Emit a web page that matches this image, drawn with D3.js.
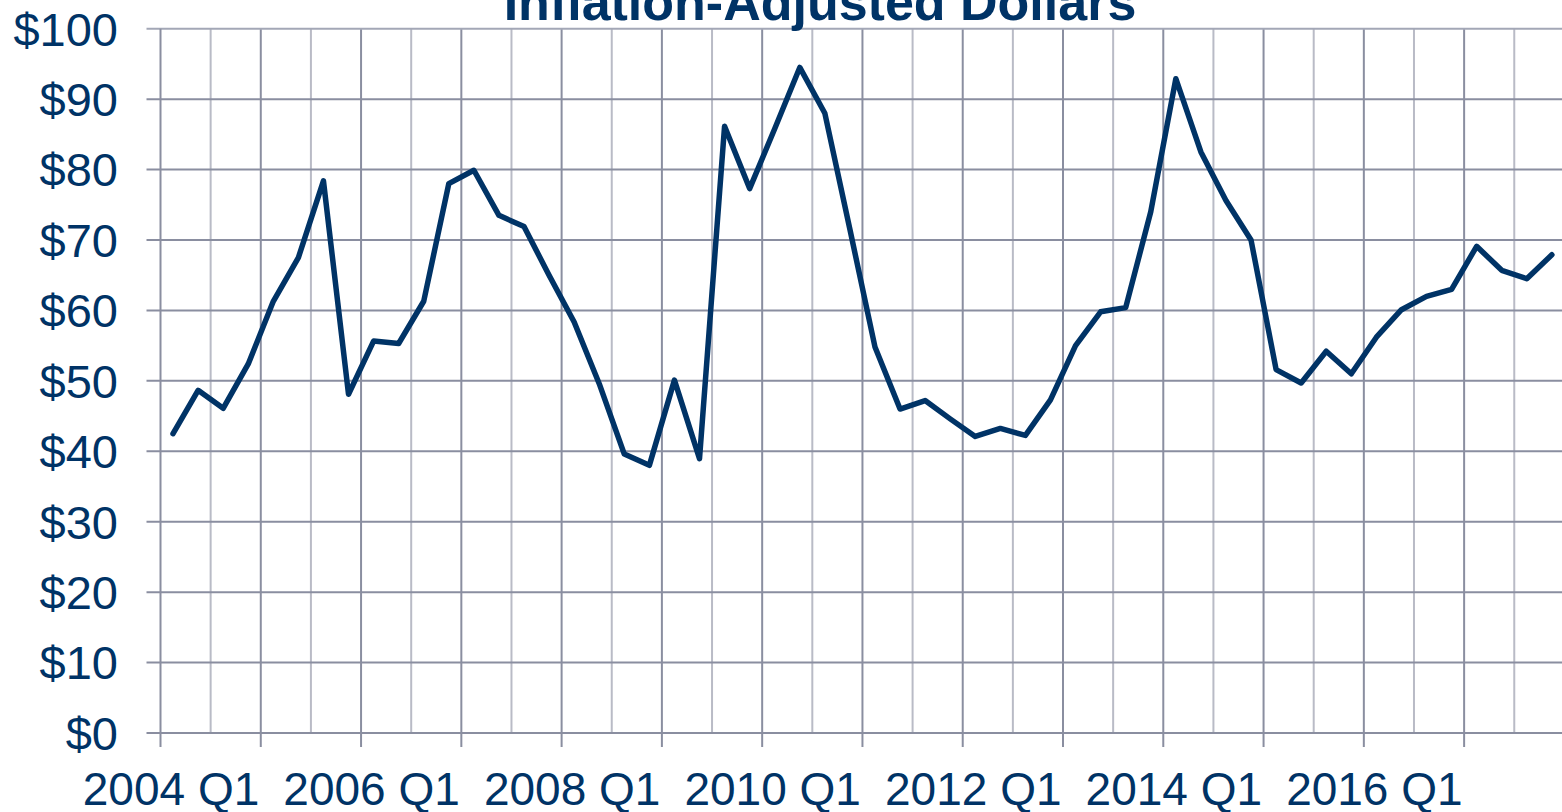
<!DOCTYPE html>
<html>
<head>
<meta charset="utf-8">
<script src="https://cdn.jsdelivr.net/npm/d3@7"></script>
<style>
	html, body { margin: 0; padding: 0; background: #ffffff; overflow: hidden; }
	#chart { width: 1562px; height: 812px; }
</style>
</head>
<body>
<div id="chart"></div>
<script>
const title = 'Inflation-Adjusted Dollars';
const years = [2004, 2005, 2006, 2007, 2008, 2009, 2010, 2011, 2012, 2013, 2014, 2015, 2016, 2017];
const quarterNames = ['Q1', 'Q2', 'Q3', 'Q4'];
const xTickLabels = ['2004 Q1', '2006 Q1', '2008 Q1', '2010 Q1', '2012 Q1', '2014 Q1', '2016 Q1'];
const yTicks = [0, 10, 20, 30, 40, 50, 60, 70, 80, 90, 100];
// quarterly price, 2004 Q1 .. 2017 Q4
const prices = [
	42.5, 48.65, 46.1, 52.4, 61.3, 67.5, 78.4, 48.1,
	55.65, 55.3, 61.3, 78.0, 79.9, 73.5, 71.9, 65.0,
	58.35, 49.6, 39.6, 38.0, 50.1, 38.95, 86.15, 77.3,
	85.8, 94.5, 88.0, 71.5, 54.8, 46.0, 47.2, 44.6,
	42.1, 43.25, 42.25, 47.3, 55.0, 59.8, 60.4, 74.0,
	92.9, 82.5, 75.6, 70.0, 51.6, 49.7, 54.2, 51.0,
	56.2, 60.1, 62.0, 63.0, 69.1, 65.7, 64.5, 67.9
];

const categories = years.flatMap(y => quarterNames.map(q => `${y} ${q}`));

const W = 1562, H = 812;
const plot = { left: 160.5, right: 1564.4, top: 28.7, bottom: 733 };
const navy = '#003366';
const gridDark = '#8a8ea0';
const gridLight = '#b9bbc6';
const font = '"Liberation Sans", Arial, sans-serif';

const svg = d3.select('#chart')
	.append('svg')
	.attr('width', W)
	.attr('height', H);

const x = d3.scaleBand().domain(categories).range([plot.left, plot.right]).padding(0);
const y = d3.scaleLinear().domain([0, 100]).range([plot.bottom, plot.top]);
const half = x.bandwidth() / 2;

// vertical gridlines every 2 quarters, darker each year
const vLines = categories.filter((_, i) => i % 2 === 0 && i > 0);
svg.append('g')
	.selectAll('line')
	.data(vLines)
	.enter()
	.append('line')
	.attr('x1', d => x(d)).attr('x2', d => x(d))
	.attr('y1', plot.top).attr('y2', plot.bottom)
	.attr('stroke', d => categories.indexOf(d) % 4 === 0 ? gridDark : gridLight)
	.attr('stroke-width', 2);

// horizontal gridlines
svg.append('g')
	.selectAll('line')
	.data(yTicks)
	.enter()
	.append('line')
	.attr('x1', plot.left - 14).attr('x2', plot.right)
	.attr('y1', d => y(d)).attr('y2', d => y(d))
	.attr('stroke', d => d === 100 ? '#a3a7b6' : gridDark)
	.attr('stroke-width', 2);

// y axis line
svg.append('line')
	.attr('x1', plot.left).attr('x2', plot.left)
	.attr('y1', plot.top).attr('y2', plot.bottom + 14)
	.attr('stroke', gridDark)
	.attr('stroke-width', 2);

// x ticks below axis, one per year
const yearTicks = categories.filter((_, i) => i % 4 === 0 && i > 0);
svg.append('g')
	.selectAll('line')
	.data(yearTicks)
	.enter()
	.append('line')
	.attr('x1', d => x(d)).attr('x2', d => x(d))
	.attr('y1', plot.bottom).attr('y2', plot.bottom + 14)
	.attr('stroke', gridDark)
	.attr('stroke-width', 2);

// y labels
svg.append('g')
	.selectAll('text')
	.data(yTicks)
	.enter()
	.append('text')
	.attr('x', 118)
	.attr('y', d => y(d))
	.attr('dy', '0.36em')
	.attr('text-anchor', 'end')
	.style('font-family', font)
	.style('font-size', '47px')
	.style('fill', navy)
	.text(d => `$${d}`);

// x labels
svg.append('g')
	.selectAll('text')
	.data(xTickLabels)
	.enter()
	.append('text')
	.attr('x', d => x(d) + half - 2)
	.attr('y', 805)
	.attr('text-anchor', 'middle')
	.style('font-family', font)
	.style('font-size', '46px')
	.style('fill', navy)
	.text(d => d);

// price line
const line = d3.line()
	.x((d, i) => x(categories[i]) + half)
	.y(d => y(d));

svg.append('path')
	.datum(prices)
	.attr('d', line)
	.attr('fill', 'none')
	.attr('stroke', navy)
	.attr('stroke-width', 5.5)
	.attr('stroke-linejoin', 'round')
	.attr('stroke-linecap', 'round');

// title (cut off at the top as in the source)
svg.append('text')
	.attr('x', 820)
	.attr('y', 20)
	.attr('text-anchor', 'middle')
	.style('font-family', font)
	.style('font-size', '52px')
	.style('font-weight', 'bold')
	.style('fill', navy)
	.text(title);
</script>
</body>
</html>
